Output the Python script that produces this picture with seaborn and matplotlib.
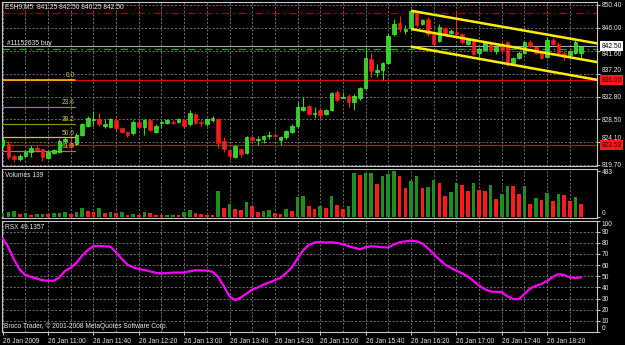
import numpy as np
import pandas as pd
import matplotlib
matplotlib.use("Agg")
import matplotlib.pyplot as plt
from matplotlib import transforms
import seaborn as sns

# ---------------- data (ESH9, M5, 26 Jan 2009) ----------------
opens = [823.5, 823.75, 821.5, 820.75, 821.5, 822.25, 823.0, 822.75, 821.0, 822.0,
         822.25, 824.25, 824.0, 823.75, 825.5, 827.25, 828.25, 828.5, 827.25, 827.0,
         828.25, 826.75, 826.0, 825.75, 828.0, 827.0, 828.25, 826.0, 827.75, 827.75,
         828.0, 828.0, 828.25, 827.5, 829.5, 828.0, 827.5, 828.25, 828.5, 824.25,
         822.5, 821.25, 822.75, 822.0, 825.0, 824.5, 824.75, 825.25, 825.5, 824.5,
         825.0, 826.0, 827.25, 830.25, 831.0, 829.5, 830.25, 829.5, 830.25, 833.75,
         832.5, 833.0, 831.75, 832.5, 834.5, 840.0, 837.5, 838.0, 839.25, 844.75,
         847.0, 845.5, 846.0, 849.0, 846.75, 847.75, 844.75, 843.5, 846.0, 845.0,
         845.25, 844.75, 843.0, 843.75, 841.25, 841.75, 843.25, 841.5, 843.0, 843.25,
         839.25, 840.25, 841.25, 843.25, 842.25, 841.5, 840.5, 843.75, 843.0, 841.25,
         840.75, 841.25, 841.25]
highs = [825.0, 824.25, 821.75, 821.75, 822.5, 823.5, 823.25, 823.0, 822.5, 822.75,
         824.75, 825.0, 825.0, 825.75, 827.75, 829.0, 830.0, 829.75, 828.5, 828.75,
         828.75, 827.0, 826.25, 828.25, 828.25, 828.5, 828.5, 827.5, 828.25, 828.5,
         828.25, 828.75, 828.5, 830.25, 829.75, 828.25, 828.75, 829.0, 828.75, 825.0,
         822.75, 823.5, 823.0, 825.25, 825.25, 825.25, 825.5, 826.25, 825.75, 825.25,
         826.5, 827.5, 831.75, 832.75, 831.25, 830.75, 830.5, 830.5, 833.75, 834.0,
         833.75, 833.25, 833.25, 834.75, 842.25, 841.25, 839.0, 839.5, 844.75, 847.75,
         848.25, 846.5, 849.5, 849.25, 847.75, 848.0, 845.0, 846.75, 846.25, 845.75,
         849.25, 845.0, 844.0, 844.0, 842.25, 843.5, 843.5, 842.75, 843.5, 843.5,
         840.5, 841.5, 843.5, 843.75, 842.5, 841.75, 844.25, 844.0, 843.25, 841.5,
         841.75, 843.75, 842.5]
lows = [823.0, 820.75, 820.25, 820.5, 821.25, 821.25, 822.25, 820.5, 820.75, 821.75,
        822.0, 824.0, 823.0, 823.5, 825.25, 827.0, 827.25, 827.25, 826.75, 826.75,
        826.5, 825.75, 825.0, 825.5, 826.75, 825.5, 826.25, 825.75, 826.75, 827.5,
        827.5, 827.75, 826.75, 827.25, 827.5, 827.25, 827.25, 828.0, 823.0, 822.25,
        820.75, 821.0, 821.25, 821.75, 824.25, 823.5, 824.0, 824.75, 825.0, 823.5,
        824.75, 825.75, 827.0, 830.0, 829.25, 828.75, 828.25, 829.25, 830.0, 832.0,
        832.5, 830.75, 830.25, 832.25, 834.25, 836.5, 836.5, 836.0, 839.0, 844.5,
        845.25, 844.75, 845.75, 846.25, 846.5, 844.5, 842.75, 843.25, 844.5, 844.75,
        844.5, 843.0, 842.75, 840.75, 840.0, 841.5, 841.5, 841.0, 841.25, 838.75,
        839.0, 840.0, 841.0, 842.25, 841.0, 840.0, 840.25, 842.75, 840.75, 839.75,
        840.5, 841.0, 840.25]
closes = [824.5, 821.25, 820.75, 821.5, 822.25, 823.0, 822.5, 821.25, 822.25, 822.5,
          824.25, 824.75, 823.25, 825.5, 827.5, 828.75, 828.5, 827.5, 827.5, 828.5,
          826.75, 826.0, 825.5, 828.0, 827.0, 828.25, 826.5, 827.25, 828.0, 828.25,
          827.75, 828.5, 827.25, 829.75, 827.75, 827.75, 828.5, 828.75, 824.0, 822.75,
          821.5, 823.25, 821.75, 825.0, 824.5, 824.75, 825.25, 825.5, 825.25, 825.0,
          826.25, 827.25, 830.75, 830.75, 829.5, 829.75, 829.25, 830.25, 833.5, 832.25,
          832.75, 831.75, 833.0, 834.5, 840.25, 837.75, 838.0, 839.25, 844.5, 846.75,
          845.75, 845.75, 849.25, 846.5, 847.5, 844.75, 843.0, 846.25, 844.75, 845.5,
          844.75, 843.25, 843.75, 841.0, 842.0, 843.25, 841.75, 842.5, 841.75, 839.0,
          840.25, 841.25, 843.25, 842.5, 841.25, 840.25, 843.75, 843.0, 841.25, 840.5,
          841.5, 843.25, 842.5]
volumes = [49, 52, 63, 31, 42, 24, 31, 35, 31, 42,
           49, 56, 35, 56, 94, 66, 56, 94, 50, 52,
           42, 56, 21, 35, 24, 56, 42, 24, 21, 24,
           26, 21, 56, 77, 49, 35, 24, 23, 276, 101,
           140, 87, 77, 157, 119, 56, 70, 77, 49, 35,
           84, 70, 213, 227, 119, 87, 122, 94, 224, 129,
           87, 119, 469, 448, 462, 470, 350, 437, 455, 483,
           437, 311, 378, 434, 311, 315, 392, 364, 224, 266,
           364, 339, 273, 357, 290, 276, 339, 192, 248, 332,
           325, 248, 332, 143, 199, 178, 252, 171, 245, 238,
           171, 213, 139]
rsx = [84.0, 76.0, 65.0, 56.0, 51.0, 49.5, 48.0, 46.5, 46.0, 46.0,
       49.0, 54.8, 57.5, 62.0, 68.5, 73.5, 77.0, 77.2, 77.0, 76.5,
       71.5, 65.5, 60.5, 58.0, 56.5, 55.6, 54.5, 53.0, 52.5, 52.8,
       53.3, 53.3, 53.3, 54.5, 55.4, 55.2, 55.0, 54.0, 49.5, 41.0,
       32.0, 28.5, 31.0, 34.5, 38.0, 40.0, 42.5, 44.5, 46.5, 48.5,
       53.0, 58.0, 66.0, 73.5, 78.0, 80.3, 80.6, 80.2, 80.5, 79.8,
       78.7, 77.0, 75.5, 74.2, 76.0, 77.0, 76.5, 76.0, 75.8, 78.5,
       80.5, 81.3, 82.0, 81.2, 79.5, 75.0, 70.0, 65.0, 60.5, 57.5,
       55.0, 52.5, 50.0, 46.0, 41.5, 38.5, 36.3, 36.0, 35.8, 32.0,
       29.5, 29.5, 34.0, 39.0, 41.5, 43.0, 45.5, 49.5, 51.8, 51.2,
       49.0, 48.3, 49.1357]
time_labels = ["26 Jan 2009", "26 Jan 11:00", "26 Jan 11:40", "26 Jan 12:20",
               "26 Jan 13:00", "26 Jan 13:40", "26 Jan 14:20", "26 Jan 15:00",
               "26 Jan 15:40", "26 Jan 16:20", "26 Jan 17:00", "26 Jan 17:40",
               "26 Jan 18:20"]
price_ticks = [850.40, 846.00, 841.60, 837.20, 832.80, 828.50, 824.10, 819.70]
fib_labels = ["0.0", "23.6", "38.2", "50.0", "61.8"]
fib_prices = [836.00, 830.80, 827.60, 825.00, 822.40]
fib_colors = ["#ffd000", "#8c8c20", "#8c8c20", "#c8c830", "#8c8c20"]
stop_price = 848.90
order_price = 842.00
bid_price = 842.50
red_levels = [836.00, 823.53]
channel_bars = [72, 105]
channel_start = [849.3, 845.8, 842.4]
channel_end = [843.0, 839.4, 836.0]
vol_ticks = [0, 483]
rsx_ticks = [0, 10, 20, 30, 40, 50, 60, 70, 80, 90, 100]

# ---------------- style ----------------
sns.set_theme(style="dark", rc={"axes.facecolor": "black", "figure.facecolor": "black",
                                "savefig.facecolor": "black"})
plt.rcParams["font.family"] = ["Liberation Sans", "DejaVu Sans"]
FS = 4.8
TXT = "#e8e8e8"
GRID = "#7c7c7c"
SPINE = "#c8c8c8"

W, H = 625, 345
fig = plt.figure(figsize=(W / 100, H / 100), dpi=100)


def rect(top, bottom):
    return [2 / W, 1 - bottom / H, 595 / W, (bottom - top) / H]


axm = fig.add_axes(rect(1.5, 166))
axv = fig.add_axes(rect(169, 218))
axr = fig.add_axes(rect(220.5, 332))

n = len(opens)
idx = np.arange(n)
o = np.array(opens); c = np.array(closes); hi = np.array(highs); lo = np.array(lows)
up = c >= o
XL = (-0.12, 104.8)
major_bars = [8 * k for k in range(len(time_labels))]
minor_bars = [8 * k + 4 for k in range(len(time_labels))]

# ---------------- main candle panel ----------------
wick_cols = np.where(up, "#19e019", "#ff2020")
axm.vlines(idx, lo, hi, colors=wick_cols, lw=0.8, zorder=3)
body_b = np.minimum(o, c)
body_h = np.maximum(np.abs(c - o), 0.15)
axm.bar(idx[up], body_h[up], bottom=body_b[up], width=0.64, color="#2fd42f",
        edgecolor="#66ff33", lw=0.4, zorder=4)
axm.bar(idx[~up], body_h[~up], bottom=body_b[~up], width=0.64, color="#ff1a1a",
        edgecolor="#ff1a1a", lw=0.4, zorder=4)

# horizontal lines
axm.axhline(stop_price, color="#b00000", lw=0.9, ls=(0, (6, 3, 1.5, 3)), zorder=2)
axm.axhline(order_price, color="#1ea01e", lw=0.9, ls=(0, (6, 3, 1.5, 3)), zorder=2)
axm.axhline(bid_price, color="#a8a8a8", lw=0.8, zorder=2)
for p in red_levels:
    axm.axhline(p, color="#e00000", lw=0.9, zorder=2)

# fibonacci
fib_end = 12.75
for lab, p, col in zip(fib_labels, fib_prices, fib_colors):
    axm.plot([XL[0], fib_end], [p, p], color=col, lw=1.1 if lab == "0.0" else 0.9, zorder=3)
    axm.text(fib_end, p + 0.15, lab, color="#c8c83c", fontsize=FS, ha="right",
             va="bottom", zorder=5)

# channel
for s, e in zip(channel_start, channel_end):
    axm.plot(channel_bars, [s, e], color="#ffee00", lw=1.8, zorder=6, solid_capstyle="butt")

axm.text(0.75, order_price + 0.3, "#11152635 buy", color=TXT, fontsize=FS,
         ha="left", va="bottom", zorder=7)

axm.set_xlim(*XL)
axm.set_ylim(819.5, 851.07)
axm.yaxis.tick_right()
axm.set_yticks(price_ticks)
axm.set_yticklabels([f"{v:.2f}" for v in price_ticks])
# labels partly hidden behind the price boxes in the reference: lift them above their grid line
for lab in axm.get_yticklabels():
    if lab.get_text() in ("837.20", "824.10"):
        lab.set_va("bottom")
    if lab.get_text() == "841.60":
        lab.set_va("top")

# price boxes
bt = transforms.blended_transform_factory(axm.transAxes, axm.transData)
axm.text(1.0075, bid_price, f"{bid_price:.2f}", transform=bt, fontsize=FS, color="black",
         ha="left", va="center", zorder=8, clip_on=False,
         bbox=dict(boxstyle="square,pad=0.18", fc="white", ec="none"))
for p in red_levels:
    axm.text(1.0075, p, f"{p:.2f}", transform=bt, fontsize=FS, color="#300000",
             ha="left", va="center", zorder=8, clip_on=False,
             bbox=dict(boxstyle="square,pad=0.18", fc="#ff1a1a", ec="none"))

# ---------------- volume panel ----------------
vdir = ["up" if i == 0 or volumes[i] > volumes[i - 1] else "down" for i in range(n)]
vdf = pd.DataFrame({"bar": idx, "vol": volumes, "dir": vdir})
sns.barplot(data=vdf, x="bar", y="vol", hue="dir", palette={"up": "#1c8f1c", "down": "#ff1a1a"},
            native_scale=True, dodge=False, width=0.64, saturation=1, errorbar=None,
            legend=False, ax=axv, zorder=3, linewidth=0, edgecolor="none")
axv.set_xlim(*XL)
axv.set_ylim(-7, 507)
axv.yaxis.tick_right()
axv.set_yticks(vol_ticks)
axv.set_yticklabels([str(v) for v in vol_ticks])
axv.get_yticklabels()[0].set_va("bottom")

# ---------------- RSX panel ----------------
sns.lineplot(x=idx, y=rsx, color="#ff00ff", lw=1.6, ax=axr, zorder=4)
axr.set_xlim(*XL)
axr.set_ylim(0, 100)
axr.yaxis.tick_right()
axr.set_yticks(rsx_ticks)
axr.set_yticklabels([str(v) for v in rsx_ticks])
axr.get_yticklabels()[0].set_va("bottom")
axr.get_yticklabels()[-1].set_va("top")

# ---------------- common axis styling ----------------
for ax in (axm, axv, axr):
    ax.set_xlabel("")
    ax.set_ylabel("")
    ax.set_facecolor("black")
    ax.set_xticks(major_bars)
    ax.set_xticks(minor_bars, minor=True)
    ax.grid(True, which="both", axis="x", color=GRID, ls=(0, (2.5, 2)), lw=0.6, zorder=1)
    ax.tick_params(axis="y", which="both", colors=TXT, labelsize=FS, length=2, width=0.6,
                   pad=1.6, direction="out", right=True, left=False,
                   labelright=True, labelleft=False)
    for sp in ax.spines.values():
        sp.set_color(SPINE)
        sp.set_linewidth(0.8)
        sp.set_visible(True)

axm.grid(True, which="major", axis="y", color=GRID, ls=(0, (2.5, 2)), lw=0.6, zorder=1)
axr.grid(True, which="major", axis="y", color=GRID, ls=(0, (2.5, 2)), lw=0.6, zorder=1)
axv.grid(False, axis="y")

for ax in (axm, axv):
    ax.tick_params(axis="x", which="both", length=0, labelbottom=False, bottom=False)

axr.set_xticklabels(time_labels)
axr.tick_params(axis="x", which="major", colors=TXT, labelsize=FS, length=2, width=0.6,
                pad=2.0, direction="out", bottom=True)
axr.tick_params(axis="x", which="minor", length=0)
for lab in axr.get_xticklabels():
    lab.set_ha("left")

# ---------------- texts ----------------
def ftext(x, y, s, **kw):
    fig.text(x / W, 1 - y / H, s, color=TXT, fontsize=FS, va="center", ha="left", **kw)


ftext(5, 7, "ESH9,M5  841.25 842.50 840.25 842.50")
ftext(5, 175.5, f"Volumes {volumes[-1]}")
ftext(5, 227.5, f"RSX {rsx[-1]:.4f}")
ftext(3.5, 326.5, "Broco Trader, \u00a9 2001-2008 MetaQuotes Software Corp.")

fig.savefig("out.png", dpi=100, facecolor="black")
